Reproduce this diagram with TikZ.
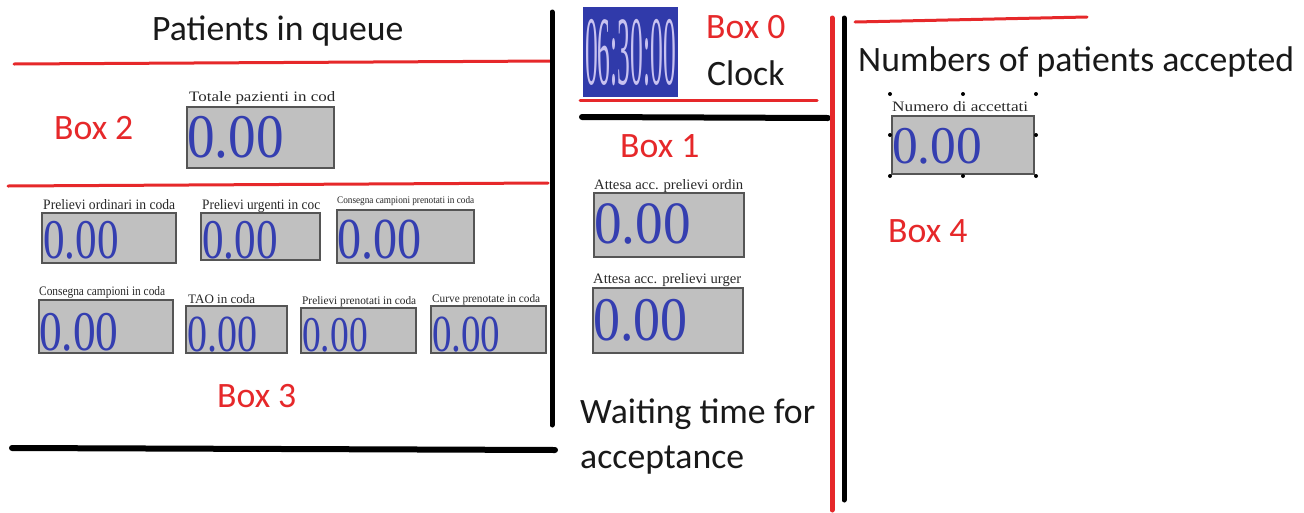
\documentclass[tikz,border=0pt]{standalone}
\usepackage{fontspec}
\usepackage{graphicx}
\setmainfont{Carlito}
\newfontfamily\serifF{Liberation Serif}
\definecolor{boxred}{RGB}{230,40,42}
\definecolor{digblue}{RGB}{52,62,176}
\definecolor{clockblue}{RGB}{48,58,170}
\definecolor{clockdig}{RGB}{200,194,240}
\definecolor{panelgray}{RGB}{192,192,192}
\definecolor{edgegray}{RGB}{85,85,85}
\definecolor{lblgray}{RGB}{40,40,40}
\newcommand\valtxt[2]{\serifF\fontsize{#1}{#1}\selectfont\scalebox{#2}[1]{0.00}}
\newcommand\lbl[3]{\serifF\resizebox{#1pt}{#2pt}{#3}}
\tikzset{
  bigtxt/.style={font=\fontsize{35.7}{35.7}\selectfont, anchor=base west, inner sep=0pt, text=black!90},
  redtxt/.style={bigtxt, text=boxred},
  panel/.style={fill=panelgray, draw=edgegray, line width=1.4pt},
  val/.style={anchor=base west, inner sep=0pt, text=digblue},
  small/.style={anchor=base west, inner sep=0pt, text=lblgray},
  redline/.style={draw=boxred, line width=3pt, line cap=round},
  blackline/.style={draw=black, line width=6pt, line cap=round},
  handle/.style={fill=black, circle, inner sep=0pt, minimum size=4pt},
}
\begin{document}
\begin{tikzpicture}[x=1pt,y=-1pt]
\useasboundingbox (0,0) rectangle (1304,512);
\fill[white] (0,0) rectangle (1304,512);

% separators
\coordinate (r1a) at (14,64); \coordinate (r1b) at (552,61);
\draw[redline] (r1a) -- (r1b);
\coordinate (b1a) at (552,12); \coordinate (b1b) at (552,425);
\draw[blackline, line width=5pt] (b1a) -- (b1b);
\coordinate (r2a) at (8,186); \coordinate (r2b) at (548,183);
\draw[redline] (r2a) -- (r2b);
\coordinate (b2a) at (12,448); \coordinate (b2b) at (555,450);
\draw[blackline] (b2a) -- (b2b);
\coordinate (r3a) at (580,100); \coordinate (r3b) at (817,100);
\draw[redline] (r3a) -- (r3b);
\coordinate (b3a) at (582,117); \coordinate (b3b) at (828,118);
\draw[blackline] (b3a) -- (b3b);
\coordinate (r4a) at (832,18); \coordinate (r4b) at (832,510);
\draw[redline, line width=5pt] (r4a) -- (r4b);
\coordinate (b4a) at (844,18); \coordinate (b4b) at (844,500);
\draw[blackline, line width=5pt] (b4a) -- (b4b);
\coordinate (r5a) at (855,22); \coordinate (r5b) at (1087,17);
\draw[redline] (r5a) -- (r5b);

% titles
\node[bigtxt] (tq) at (152,40) {Patients in queue};
\node[redtxt] (bx0) at (706,38) {Box 0};
\node[bigtxt] (clk) at (707,85) {Clock};
\node[bigtxt] (tn) at (858,71) {Numbers of patients accepted};
\node[redtxt] (bx2) at (54,139) {Box 2};
\node[redtxt] (bx1) at (620,157) {Box 1};
\node[redtxt] (bx4) at (888,242) {Box 4};
\node[redtxt] (bx3) at (217,407) {Box 3};
\node[bigtxt] (tw1) at (580,423) {Waiting time for};
\node[bigtxt] (tw2) at (580,468) {acceptance};

% clock
\fill[clockblue] (583,7) rectangle (678,97);
\node[inner sep=0pt, text=clockdig] (clock) at (630.5,53) {\serifF\fontsize{98}{98}\selectfont\scalebox{0.26}[1]{06:30:00}};

% panels
\draw[panel] (187,107) rectangle (334,168);
\draw[panel] (42,213) rectangle (176,263);
\draw[panel] (201,213) rectangle (320,260);
\draw[panel] (337,210) rectangle (474,263);
\draw[panel] (39,300) rectangle (173,353);
\draw[panel] (186,306) rectangle (287,353);
\draw[panel] (301,308) rectangle (416,353);
\draw[panel] (431,306) rectangle (546,353);
\draw[panel] (594,193) rectangle (744,257);
\draw[panel] (593,288) rectangle (743,353);
\draw[panel] (892,116) rectangle (1034,174);

% values
\node[val] (vT) at (187,157) {\valtxt{62}{0.89}};
\node[val] (vA) at (43,258) {\valtxt{56}{0.77}};
\node[val] (vB) at (202,258) {\valtxt{56}{0.77}};
\node[val] (vC) at (337,258) {\valtxt{58}{0.83}};
\node[val] (vD) at (39,350) {\valtxt{56}{0.81}};
\node[val] (vE) at (187,351) {\valtxt{52}{0.77}};
\node[val] (vF) at (302,351) {\valtxt{50}{0.75}};
\node[val] (vG) at (432,351) {\valtxt{52}{0.75}};
\node[val] (vW1) at (594,243) {\valtxt{60}{0.92}};
\node[val] (vW2) at (593,340) {\valtxt{62}{0.87}};
\node[val] (vN) at (892,163) {\valtxt{53}{0.97}};

% small labels
\node[small] (lT) at (189,101) {\lbl{146}{10}{Totale pazienti in cod}};
\node[small] (lA) at (43,209) {\lbl{132}{10}{Prelievi ordinari in coda}};
\node[small] (lB) at (202,209) {\lbl{118}{10}{Prelievi urgenti in coc}};
\node[small] (lC) at (337,203) {\lbl{137}{7}{Consegna campioni prenotati in coda}};
\node[small] (lD) at (39,295) {\lbl{126}{9}{Consegna campioni in coda}};
\node[small] (lE) at (188,303) {\lbl{67}{9}{TAO in coda}};
\node[small] (lF) at (302,304) {\lbl{114}{8}{Prelievi prenotati in coda}};
\node[small] (lG) at (432,302) {\lbl{108}{8}{Curve prenotate in coda}};
\node[small] (lW1) at (594,189) {\lbl{149}{10}{Attesa acc. prelievi ordin}};
\node[small] (lW2) at (593,283) {\lbl{148}{10}{Attesa acc. prelievi urger}};
\node[small] (lN) at (892,111) {\lbl{136}{10}{Numero di accettati}};

% selection handles
\foreach \hx/\hy [count=\i] in {890/94, 963/94, 1036/94, 890/135, 1036/135, 890/176, 963/176, 1036/176}
  \node[handle] (h\i) at (\hx,\hy) {};
\end{tikzpicture}
\end{document}
